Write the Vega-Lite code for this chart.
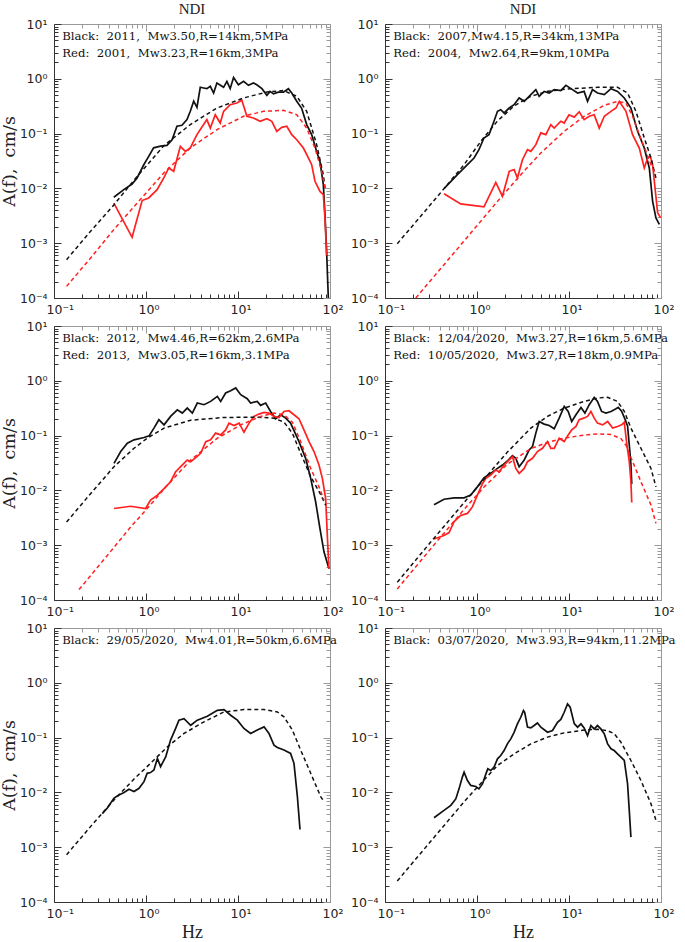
{
"$schema":"https://vega.github.io/schema/vega-lite/v6.json",
"padding":{"left":0,"top":2,"right":5,"bottom":0},
"autosize":{"type":"pad"},
"background":"white",
"columns":2,
"spacing":{"row":28,"column":55},
"bounds":"flush",
"config":{
 "view":{"stroke":null},
 "axis":{"grid":false,"labelFont":"DejaVu Sans","labelFontSize":12.5,"labelColor":"#222","titleFont":"Liberation Serif","titleFontWeight":"normal","titleColor":"#222","domainWidth":1,"tickWidth":1},
 "axisBottom":{"domainColor":"#333","tickColor":"#333"},
 "axisLeft":{"domainColor":"#333","tickColor":"#333"},
 "axisTop":{"domainColor":"#999","tickColor":"#999"},
 "axisRight":{"domainColor":"#999","tickColor":"#999"},
 "title":{"font":"Liberation Serif","fontSize":15,"fontWeight":"normal","color":"#222","offset":1,"frame":"group"}
},
"datasets":{"spectra":[
{"panel":1,"series":"Black","curve":"obs","hz":0.447,"amp":0.0069},
{"panel":1,"series":"Black","curve":"obs","hz":0.574,"amp":0.0095},
{"panel":1,"series":"Black","curve":"obs","hz":0.706,"amp":0.012},
{"panel":1,"series":"Black","curve":"obs","hz":0.8,"amp":0.0155},
{"panel":1,"series":"Black","curve":"obs","hz":0.946,"amp":0.027},
{"panel":1,"series":"Black","curve":"obs","hz":1.07,"amp":0.0385},
{"panel":1,"series":"Black","curve":"obs","hz":1.21,"amp":0.055},
{"panel":1,"series":"Black","curve":"obs","hz":1.44,"amp":0.059},
{"panel":1,"series":"Black","curve":"obs","hz":1.69,"amp":0.061},
{"panel":1,"series":"Black","curve":"obs","hz":1.92,"amp":0.077},
{"panel":1,"series":"Black","curve":"obs","hz":2.17,"amp":0.136},
{"panel":1,"series":"Black","curve":"obs","hz":2.46,"amp":0.142},
{"panel":1,"series":"Black","curve":"obs","hz":2.79,"amp":0.18},
{"panel":1,"series":"Black","curve":"obs","hz":3.03,"amp":0.255},
{"panel":1,"series":"Black","curve":"obs","hz":3.3,"amp":0.39},
{"panel":1,"series":"Black","curve":"obs","hz":3.58,"amp":0.3},
{"panel":1,"series":"Black","curve":"obs","hz":3.89,"amp":0.7},
{"panel":1,"series":"Black","curve":"obs","hz":4.23,"amp":0.68},
{"panel":1,"series":"Black","curve":"obs","hz":4.59,"amp":0.66},
{"panel":1,"series":"Black","curve":"obs","hz":5.0,"amp":0.73},
{"panel":1,"series":"Black","curve":"obs","hz":5.43,"amp":0.55},
{"panel":1,"series":"Black","curve":"obs","hz":5.9,"amp":0.84},
{"panel":1,"series":"Black","curve":"obs","hz":6.97,"amp":0.7},
{"panel":1,"series":"Black","curve":"obs","hz":7.57,"amp":0.9},
{"panel":1,"series":"Black","curve":"obs","hz":8.22,"amp":0.66},
{"panel":1,"series":"Black","curve":"obs","hz":8.95,"amp":1.06},
{"panel":1,"series":"Black","curve":"obs","hz":10.1,"amp":0.78},
{"panel":1,"series":"Black","curve":"obs","hz":11.5,"amp":0.9},
{"panel":1,"series":"Black","curve":"obs","hz":13.0,"amp":0.76},
{"panel":1,"series":"Black","curve":"obs","hz":14.7,"amp":0.84},
{"panel":1,"series":"Black","curve":"obs","hz":16.0,"amp":0.78},
{"panel":1,"series":"Black","curve":"obs","hz":18.2,"amp":0.66},
{"panel":1,"series":"Black","curve":"obs","hz":20.6,"amp":0.5},
{"panel":1,"series":"Black","curve":"obs","hz":22.3,"amp":0.59},
{"panel":1,"series":"Black","curve":"obs","hz":24.3,"amp":0.53},
{"panel":1,"series":"Black","curve":"obs","hz":27.5,"amp":0.57},
{"panel":1,"series":"Black","curve":"obs","hz":31.2,"amp":0.57},
{"panel":1,"series":"Black","curve":"obs","hz":35.3,"amp":0.66},
{"panel":1,"series":"Black","curve":"obs","hz":38.4,"amp":0.55},
{"panel":1,"series":"Black","curve":"obs","hz":43.5,"amp":0.39},
{"panel":1,"series":"Black","curve":"obs","hz":49.2,"amp":0.29},
{"panel":1,"series":"Black","curve":"obs","hz":55.8,"amp":0.146},
{"panel":1,"series":"Black","curve":"obs","hz":63.2,"amp":0.096},
{"panel":1,"series":"Black","curve":"obs","hz":71.6,"amp":0.047},
{"panel":1,"series":"Black","curve":"obs","hz":77.8,"amp":0.031},
{"panel":1,"series":"Black","curve":"obs","hz":84.6,"amp":0.0117},
{"panel":1,"series":"Black","curve":"obs","hz":88.2,"amp":0.0033},
{"panel":1,"series":"Black","curve":"obs","hz":91.9,"amp":0.0007},
{"panel":1,"series":"Black","curve":"obs","hz":95.9,"amp":0.0001},
{"panel":1,"series":"Red","curve":"obs","hz":0.447,"amp":0.0054},
{"panel":1,"series":"Red","curve":"obs","hz":0.706,"amp":0.00128},
{"panel":1,"series":"Red","curve":"obs","hz":0.908,"amp":0.006},
{"panel":1,"series":"Red","curve":"obs","hz":1.07,"amp":0.0067},
{"panel":1,"series":"Red","curve":"obs","hz":1.32,"amp":0.0095},
{"panel":1,"series":"Red","curve":"obs","hz":1.56,"amp":0.0155},
{"panel":1,"series":"Red","curve":"obs","hz":1.77,"amp":0.0236},
{"panel":1,"series":"Red","curve":"obs","hz":2.0,"amp":0.0205},
{"panel":1,"series":"Red","curve":"obs","hz":2.36,"amp":0.0586},
{"panel":1,"series":"Red","curve":"obs","hz":2.68,"amp":0.0474},
{"panel":1,"series":"Red","curve":"obs","hz":3.03,"amp":0.0546},
{"panel":1,"series":"Red","curve":"obs","hz":3.58,"amp":0.0957},
{"panel":1,"series":"Red","curve":"obs","hz":4.23,"amp":0.146},
{"panel":1,"series":"Red","curve":"obs","hz":4.59,"amp":0.18},
{"panel":1,"series":"Red","curve":"obs","hz":5.0,"amp":0.126},
{"panel":1,"series":"Red","curve":"obs","hz":5.66,"amp":0.221},
{"panel":1,"series":"Red","curve":"obs","hz":6.41,"amp":0.156},
{"panel":1,"series":"Red","curve":"obs","hz":6.97,"amp":0.255},
{"panel":1,"series":"Red","curve":"obs","hz":8.22,"amp":0.337},
{"panel":1,"series":"Red","curve":"obs","hz":9.72,"amp":0.361},
{"panel":1,"series":"Red","curve":"obs","hz":11.0,"amp":0.405},
{"panel":1,"series":"Red","curve":"obs","hz":12.5,"amp":0.207},
{"panel":1,"series":"Red","curve":"obs","hz":14.7,"amp":0.193},
{"panel":1,"series":"Red","curve":"obs","hz":17.4,"amp":0.168},
{"panel":1,"series":"Red","curve":"obs","hz":20.6,"amp":0.187},
{"panel":1,"series":"Red","curve":"obs","hz":23.3,"amp":0.168},
{"panel":1,"series":"Red","curve":"obs","hz":26.4,"amp":0.11},
{"panel":1,"series":"Red","curve":"obs","hz":29.9,"amp":0.13},
{"panel":1,"series":"Red","curve":"obs","hz":33.9,"amp":0.136},
{"panel":1,"series":"Red","curve":"obs","hz":38.4,"amp":0.0957},
{"panel":1,"series":"Red","curve":"obs","hz":43.5,"amp":0.0774},
{"panel":1,"series":"Red","curve":"obs","hz":51.4,"amp":0.0546},
{"panel":1,"series":"Red","curve":"obs","hz":58.2,"amp":0.0359},
{"panel":1,"series":"Red","curve":"obs","hz":63.2,"amp":0.0271},
{"panel":1,"series":"Red","curve":"obs","hz":68.7,"amp":0.0135},
{"panel":1,"series":"Red","curve":"obs","hz":77.8,"amp":0.0088},
{"panel":1,"series":"Red","curve":"obs","hz":84.6,"amp":0.0077},
{"panel":1,"series":"Red","curve":"obs","hz":88.2,"amp":0.0029},
{"panel":1,"series":"Red","curve":"obs","hz":91.9,"amp":0.0006},
{"panel":1,"series":"Black","curve":"model","hz":0.137,"amp":0.0005},
{"panel":1,"series":"Black","curve":"model","hz":0.25,"amp":0.00166},
{"panel":1,"series":"Black","curve":"model","hz":0.447,"amp":0.005},
{"panel":1,"series":"Black","curve":"model","hz":0.8,"amp":0.0165},
{"panel":1,"series":"Black","curve":"model","hz":1.56,"amp":0.06},
{"panel":1,"series":"Black","curve":"model","hz":3.03,"amp":0.146},
{"panel":1,"series":"Black","curve":"model","hz":5.9,"amp":0.293},
{"panel":1,"series":"Black","curve":"model","hz":11.5,"amp":0.447},
{"panel":1,"series":"Black","curve":"model","hz":20.6,"amp":0.574},
{"panel":1,"series":"Black","curve":"model","hz":31.2,"amp":0.61},
{"panel":1,"series":"Black","curve":"model","hz":43.5,"amp":0.48},
{"panel":1,"series":"Black","curve":"model","hz":55.8,"amp":0.255},
{"panel":1,"series":"Black","curve":"model","hz":71.6,"amp":0.063},
{"panel":1,"series":"Black","curve":"model","hz":84.6,"amp":0.0178},
{"panel":1,"series":"Black","curve":"model","hz":88.2,"amp":0.0102},
{"panel":1,"series":"Red","curve":"model","hz":0.137,"amp":0.000163},
{"panel":1,"series":"Red","curve":"model","hz":0.25,"amp":0.000537},
{"panel":1,"series":"Red","curve":"model","hz":0.447,"amp":0.00177},
{"panel":1,"series":"Red","curve":"model","hz":0.8,"amp":0.0054},
{"panel":1,"series":"Red","curve":"model","hz":1.56,"amp":0.0191},
{"panel":1,"series":"Red","curve":"model","hz":3.03,"amp":0.0546},
{"panel":1,"series":"Red","curve":"model","hz":5.9,"amp":0.118},
{"panel":1,"series":"Red","curve":"model","hz":11.5,"amp":0.207},
{"panel":1,"series":"Red","curve":"model","hz":18.9,"amp":0.255},
{"panel":1,"series":"Red","curve":"model","hz":31.2,"amp":0.266},
{"panel":1,"series":"Red","curve":"model","hz":43.5,"amp":0.221},
{"panel":1,"series":"Red","curve":"model","hz":55.8,"amp":0.126},
{"panel":1,"series":"Red","curve":"model","hz":68.7,"amp":0.0546},
{"panel":1,"series":"Red","curve":"model","hz":81.1,"amp":0.0205},
{"panel":1,"series":"Red","curve":"model","hz":88.2,"amp":0.0102},
{"panel":2,"series":"Black","curve":"obs","hz":0.438,"amp":0.0099},
{"panel":2,"series":"Black","curve":"obs","hz":0.612,"amp":0.0178},
{"panel":2,"series":"Black","curve":"obs","hz":0.787,"amp":0.0271},
{"panel":2,"series":"Black","curve":"obs","hz":0.929,"amp":0.0359},
{"panel":2,"series":"Black","curve":"obs","hz":1.05,"amp":0.0509},
{"panel":2,"series":"Black","curve":"obs","hz":1.19,"amp":0.0832},
{"panel":2,"series":"Black","curve":"obs","hz":1.35,"amp":0.0957},
{"panel":2,"series":"Black","curve":"obs","hz":1.53,"amp":0.168},
{"panel":2,"series":"Black","curve":"obs","hz":1.67,"amp":0.255},
{"panel":2,"series":"Black","curve":"obs","hz":1.81,"amp":0.273},
{"panel":2,"series":"Black","curve":"obs","hz":1.97,"amp":0.238},
{"panel":2,"series":"Black","curve":"obs","hz":2.24,"amp":0.293},
{"panel":2,"series":"Black","curve":"obs","hz":2.53,"amp":0.337},
{"panel":2,"series":"Black","curve":"obs","hz":2.87,"amp":0.447},
{"panel":2,"series":"Black","curve":"obs","hz":3.26,"amp":0.388},
{"panel":2,"series":"Black","curve":"obs","hz":3.85,"amp":0.513},
{"panel":2,"series":"Black","curve":"obs","hz":4.36,"amp":0.634},
{"panel":2,"series":"Black","curve":"obs","hz":4.74,"amp":0.479},
{"panel":2,"series":"Black","curve":"obs","hz":5.37,"amp":0.59},
{"panel":2,"series":"Black","curve":"obs","hz":6.09,"amp":0.551},
{"panel":2,"series":"Black","curve":"obs","hz":6.9,"amp":0.634},
{"panel":2,"series":"Black","curve":"obs","hz":8.15,"amp":0.611},
{"panel":2,"series":"Black","curve":"obs","hz":9.25,"amp":0.76},
{"panel":2,"series":"Black","curve":"obs","hz":10.5,"amp":0.661},
{"panel":2,"series":"Black","curve":"obs","hz":12.4,"amp":0.551},
{"panel":2,"series":"Black","curve":"obs","hz":14.6,"amp":0.59},
{"panel":2,"series":"Black","curve":"obs","hz":15.9,"amp":0.388},
{"panel":2,"series":"Black","curve":"obs","hz":18.0,"amp":0.634},
{"panel":2,"series":"Black","curve":"obs","hz":20.4,"amp":0.551},
{"panel":2,"series":"Black","curve":"obs","hz":24.2,"amp":0.513},
{"panel":2,"series":"Black","curve":"obs","hz":28.6,"amp":0.661},
{"panel":2,"series":"Black","curve":"obs","hz":33.7,"amp":0.59},
{"panel":2,"series":"Black","curve":"obs","hz":39.9,"amp":0.447},
{"panel":2,"series":"Black","curve":"obs","hz":47.1,"amp":0.293},
{"panel":2,"series":"Black","curve":"obs","hz":55.7,"amp":0.11},
{"panel":2,"series":"Black","curve":"obs","hz":65.8,"amp":0.0546},
{"panel":2,"series":"Black","curve":"obs","hz":74.6,"amp":0.0236},
{"panel":2,"series":"Black","curve":"obs","hz":81.1,"amp":0.0058},
{"panel":2,"series":"Black","curve":"obs","hz":88.1,"amp":0.0029},
{"panel":2,"series":"Black","curve":"obs","hz":95.9,"amp":0.0022},
{"panel":2,"series":"Red","curve":"obs","hz":0.438,"amp":0.008},
{"panel":2,"series":"Red","curve":"obs","hz":0.665,"amp":0.0052},
{"panel":2,"series":"Red","curve":"obs","hz":1.19,"amp":0.0046},
{"panel":2,"series":"Red","curve":"obs","hz":1.6,"amp":0.0129},
{"panel":2,"series":"Red","curve":"obs","hz":1.89,"amp":0.0072},
{"panel":2,"series":"Red","curve":"obs","hz":2.24,"amp":0.0205},
{"panel":2,"series":"Red","curve":"obs","hz":2.53,"amp":0.022},
{"panel":2,"series":"Red","curve":"obs","hz":2.75,"amp":0.0155},
{"panel":2,"series":"Red","curve":"obs","hz":3.12,"amp":0.0334},
{"panel":2,"series":"Red","curve":"obs","hz":3.54,"amp":0.0509},
{"panel":2,"series":"Red","curve":"obs","hz":3.85,"amp":0.0474},
{"panel":2,"series":"Red","curve":"obs","hz":4.36,"amp":0.0628},
{"panel":2,"series":"Red","curve":"obs","hz":4.94,"amp":0.103},
{"panel":2,"series":"Red","curve":"obs","hz":5.6,"amp":0.0957},
{"panel":2,"series":"Red","curve":"obs","hz":6.35,"amp":0.146},
{"panel":2,"series":"Red","curve":"obs","hz":6.9,"amp":0.126},
{"panel":2,"series":"Red","curve":"obs","hz":8.15,"amp":0.168},
{"panel":2,"series":"Red","curve":"obs","hz":8.87,"amp":0.156},
{"panel":2,"series":"Red","curve":"obs","hz":10.0,"amp":0.221},
{"panel":2,"series":"Red","curve":"obs","hz":11.4,"amp":0.2},
{"panel":2,"series":"Red","curve":"obs","hz":12.9,"amp":0.25},
{"panel":2,"series":"Red","curve":"obs","hz":14.6,"amp":0.18},
{"panel":2,"series":"Red","curve":"obs","hz":16.6,"amp":0.207},
{"panel":2,"series":"Red","curve":"obs","hz":18.8,"amp":0.221},
{"panel":2,"series":"Red","curve":"obs","hz":21.3,"amp":0.126},
{"panel":2,"series":"Red","curve":"obs","hz":24.2,"amp":0.207},
{"panel":2,"series":"Red","curve":"obs","hz":28.6,"amp":0.255},
{"panel":2,"series":"Red","curve":"obs","hz":32.4,"amp":0.293},
{"panel":2,"series":"Red","curve":"obs","hz":35.2,"amp":0.388},
{"panel":2,"series":"Red","curve":"obs","hz":41.6,"amp":0.255},
{"panel":2,"series":"Red","curve":"obs","hz":49.1,"amp":0.0957},
{"panel":2,"series":"Red","curve":"obs","hz":58.1,"amp":0.0546},
{"panel":2,"series":"Red","curve":"obs","hz":65.8,"amp":0.0236},
{"panel":2,"series":"Red","curve":"obs","hz":71.6,"amp":0.0359},
{"panel":2,"series":"Red","curve":"obs","hz":76.5,"amp":0.0385},
{"panel":2,"series":"Red","curve":"obs","hz":81.1,"amp":0.0271},
{"panel":2,"series":"Red","curve":"obs","hz":84.6,"amp":0.0135},
{"panel":2,"series":"Red","curve":"obs","hz":91.9,"amp":0.0036},
{"panel":2,"series":"Red","curve":"obs","hz":99,"amp":0.0029},
{"panel":2,"series":"Black","curve":"model","hz":0.136,"amp":0.00098},
{"panel":2,"series":"Black","curve":"model","hz":0.244,"amp":0.0031},
{"panel":2,"series":"Black","curve":"model","hz":0.438,"amp":0.0099},
{"panel":2,"series":"Black","curve":"model","hz":0.724,"amp":0.0271},
{"panel":2,"series":"Black","curve":"model","hz":1.1,"amp":0.0723},
{"panel":2,"series":"Black","curve":"model","hz":1.67,"amp":0.17},
{"panel":2,"series":"Black","curve":"model","hz":2.53,"amp":0.32},
{"panel":2,"series":"Black","curve":"model","hz":3.85,"amp":0.479},
{"panel":2,"series":"Black","curve":"model","hz":5.84,"amp":0.59},
{"panel":2,"series":"Black","curve":"model","hz":10.5,"amp":0.661},
{"panel":2,"series":"Black","curve":"model","hz":20.4,"amp":0.698},
{"panel":2,"series":"Black","curve":"model","hz":33.7,"amp":0.698},
{"panel":2,"series":"Black","curve":"model","hz":43.3,"amp":0.551},
{"panel":2,"series":"Black","curve":"model","hz":53.4,"amp":0.255},
{"panel":2,"series":"Black","curve":"model","hz":65.8,"amp":0.0832},
{"panel":2,"series":"Black","curve":"model","hz":77.8,"amp":0.0359},
{"panel":2,"series":"Black","curve":"model","hz":88.1,"amp":0.0155},
{"panel":2,"series":"Red","curve":"model","hz":0.216,"amp":0.0001},
{"panel":2,"series":"Red","curve":"model","hz":0.438,"amp":0.000406},
{"panel":2,"series":"Red","curve":"model","hz":0.855,"amp":0.00153},
{"panel":2,"series":"Red","curve":"model","hz":1.67,"amp":0.0058},
{"panel":2,"series":"Red","curve":"model","hz":2.99,"amp":0.0178},
{"panel":2,"series":"Red","curve":"model","hz":4.94,"amp":0.0443},
{"panel":2,"series":"Red","curve":"model","hz":8.87,"amp":0.11},
{"panel":2,"series":"Red","curve":"model","hz":14.6,"amp":0.207},
{"panel":2,"series":"Red","curve":"model","hz":24.2,"amp":0.328},
{"panel":2,"series":"Red","curve":"model","hz":33.7,"amp":0.388},
{"panel":2,"series":"Red","curve":"model","hz":41.6,"amp":0.361},
{"panel":2,"series":"Red","curve":"model","hz":49.1,"amp":0.207},
{"panel":2,"series":"Red","curve":"model","hz":58.1,"amp":0.0957},
{"panel":2,"series":"Red","curve":"model","hz":68.6,"amp":0.0474},
{"panel":2,"series":"Red","curve":"model","hz":77.8,"amp":0.0271},
{"panel":2,"series":"Red","curve":"model","hz":88.1,"amp":0.0178},
{"panel":3,"series":"Black","curve":"obs","hz":0.449,"amp":0.0312},
{"panel":3,"series":"Black","curve":"obs","hz":0.531,"amp":0.0511},
{"panel":3,"series":"Black","curve":"obs","hz":0.627,"amp":0.0726},
{"panel":3,"series":"Black","curve":"obs","hz":0.741,"amp":0.0836},
{"panel":3,"series":"Black","curve":"obs","hz":0.951,"amp":0.0922},
{"panel":3,"series":"Black","curve":"obs","hz":1.08,"amp":0.0989},
{"panel":3,"series":"Black","curve":"obs","hz":1.22,"amp":0.137},
{"panel":3,"series":"Black","curve":"obs","hz":1.38,"amp":0.195},
{"panel":3,"series":"Black","curve":"obs","hz":1.57,"amp":0.157},
{"panel":3,"series":"Black","curve":"obs","hz":1.85,"amp":0.224},
{"panel":3,"series":"Black","curve":"obs","hz":2.19,"amp":0.296},
{"panel":3,"series":"Black","curve":"obs","hz":2.48,"amp":0.258},
{"panel":3,"series":"Black","curve":"obs","hz":2.81,"amp":0.318},
{"panel":3,"series":"Black","curve":"obs","hz":3.19,"amp":0.258},
{"panel":3,"series":"Black","curve":"obs","hz":3.61,"amp":0.393},
{"panel":3,"series":"Black","curve":"obs","hz":4.27,"amp":0.366},
{"panel":3,"series":"Black","curve":"obs","hz":5.04,"amp":0.421},
{"panel":3,"series":"Black","curve":"obs","hz":5.96,"amp":0.52},
{"panel":3,"series":"Black","curve":"obs","hz":6.48,"amp":0.421},
{"panel":3,"series":"Black","curve":"obs","hz":7.34,"amp":0.6},
{"panel":3,"series":"Black","curve":"obs","hz":8.32,"amp":0.661},
{"panel":3,"series":"Black","curve":"obs","hz":9.44,"amp":0.74},
{"panel":3,"series":"Black","curve":"obs","hz":10.7,"amp":0.558},
{"panel":3,"series":"Black","curve":"obs","hz":12.6,"amp":0.472},
{"panel":3,"series":"Black","curve":"obs","hz":13.7,"amp":0.393},
{"panel":3,"series":"Black","curve":"obs","hz":16.2,"amp":0.421},
{"panel":3,"series":"Black","curve":"obs","hz":17.6,"amp":0.356},
{"panel":3,"series":"Black","curve":"obs","hz":20.0,"amp":0.393},
{"panel":3,"series":"Black","curve":"obs","hz":22.6,"amp":0.276},
{"panel":3,"series":"Black","curve":"obs","hz":25.7,"amp":0.203},
{"panel":3,"series":"Black","curve":"obs","hz":29.1,"amp":0.24},
{"panel":3,"series":"Black","curve":"obs","hz":33.0,"amp":0.208},
{"panel":3,"series":"Black","curve":"obs","hz":37.3,"amp":0.169},
{"panel":3,"series":"Black","curve":"obs","hz":46.0,"amp":0.0778},
{"panel":3,"series":"Black","curve":"obs","hz":54.4,"amp":0.0385},
{"panel":3,"series":"Black","curve":"obs","hz":61.7,"amp":0.0166},
{"panel":3,"series":"Black","curve":"obs","hz":69.8,"amp":0.0062},
{"panel":3,"series":"Black","curve":"obs","hz":77.8,"amp":0.002},
{"panel":3,"series":"Black","curve":"obs","hz":86.1,"amp":0.00075},
{"panel":3,"series":"Black","curve":"obs","hz":97.5,"amp":0.00037},
{"panel":3,"series":"Red","curve":"obs","hz":0.449,"amp":0.00467},
{"panel":3,"series":"Red","curve":"obs","hz":0.681,"amp":0.00514},
{"panel":3,"series":"Red","curve":"obs","hz":0.99,"amp":0.00467},
{"panel":3,"series":"Red","curve":"obs","hz":1.12,"amp":0.00664},
{"panel":3,"series":"Red","curve":"obs","hz":1.33,"amp":0.0082},
{"panel":3,"series":"Red","curve":"obs","hz":1.57,"amp":0.0108},
{"panel":3,"series":"Red","curve":"obs","hz":1.85,"amp":0.0144},
{"panel":3,"series":"Red","curve":"obs","hz":2.1,"amp":0.0219},
{"panel":3,"series":"Red","curve":"obs","hz":2.38,"amp":0.0271},
{"panel":3,"series":"Red","curve":"obs","hz":2.81,"amp":0.0359},
{"panel":3,"series":"Red","curve":"obs","hz":3.06,"amp":0.0334},
{"panel":3,"series":"Red","curve":"obs","hz":3.47,"amp":0.0396},
{"panel":3,"series":"Red","curve":"obs","hz":3.93,"amp":0.0475},
{"panel":3,"series":"Red","curve":"obs","hz":4.46,"amp":0.0778},
{"panel":3,"series":"Red","curve":"obs","hz":5.04,"amp":0.0836},
{"panel":3,"series":"Red","curve":"obs","hz":5.71,"amp":0.111},
{"panel":3,"series":"Red","curve":"obs","hz":6.48,"amp":0.103},
{"panel":3,"series":"Red","curve":"obs","hz":7.34,"amp":0.127},
{"panel":3,"series":"Red","curve":"obs","hz":7.98,"amp":0.169},
{"panel":3,"series":"Red","curve":"obs","hz":9.05,"amp":0.153},
{"panel":3,"series":"Red","curve":"obs","hz":10.3,"amp":0.169},
{"panel":3,"series":"Red","curve":"obs","hz":11.6,"amp":0.115},
{"panel":3,"series":"Red","curve":"obs","hz":13.2,"amp":0.169},
{"panel":3,"series":"Red","curve":"obs","hz":14.9,"amp":0.224},
{"panel":3,"series":"Red","curve":"obs","hz":16.9,"amp":0.247},
{"panel":3,"series":"Red","curve":"obs","hz":19.2,"amp":0.265},
{"panel":3,"series":"Red","curve":"obs","hz":21.7,"amp":0.258},
{"panel":3,"series":"Red","curve":"obs","hz":24.6,"amp":0.224},
{"panel":3,"series":"Red","curve":"obs","hz":27.9,"amp":0.214},
{"panel":3,"series":"Red","curve":"obs","hz":31.6,"amp":0.276},
{"panel":3,"series":"Red","curve":"obs","hz":35.8,"amp":0.284},
{"panel":3,"series":"Red","curve":"obs","hz":40.6,"amp":0.24},
{"panel":3,"series":"Red","curve":"obs","hz":46.0,"amp":0.203},
{"panel":3,"series":"Red","curve":"obs","hz":52.1,"amp":0.127},
{"panel":3,"series":"Red","curve":"obs","hz":59.2,"amp":0.0778},
{"panel":3,"series":"Red","curve":"obs","hz":67.0,"amp":0.0511},
{"panel":3,"series":"Red","curve":"obs","hz":75.9,"amp":0.029},
{"panel":3,"series":"Red","curve":"obs","hz":82.6,"amp":0.0166},
{"panel":3,"series":"Red","curve":"obs","hz":89.7,"amp":0.0071},
{"panel":3,"series":"Red","curve":"obs","hz":93.5,"amp":0.0015},
{"panel":3,"series":"Red","curve":"obs","hz":97.5,"amp":0.00037},
{"panel":3,"series":"Black","curve":"model","hz":0.137,"amp":0.00265},
{"panel":3,"series":"Black","curve":"model","hz":0.251,"amp":0.0088},
{"panel":3,"series":"Black","curve":"model","hz":0.449,"amp":0.0271},
{"panel":3,"series":"Black","curve":"model","hz":0.741,"amp":0.0587},
{"panel":3,"series":"Black","curve":"model","hz":1.03,"amp":0.0896},
{"panel":3,"series":"Black","curve":"model","hz":1.57,"amp":0.137},
{"panel":3,"series":"Black","curve":"model","hz":3.06,"amp":0.191},
{"panel":3,"series":"Black","curve":"model","hz":7.05,"amp":0.214},
{"panel":3,"series":"Black","curve":"model","hz":16.2,"amp":0.217},
{"panel":3,"series":"Black","curve":"model","hz":24.6,"amp":0.208},
{"panel":3,"series":"Black","curve":"model","hz":31.6,"amp":0.176},
{"panel":3,"series":"Black","curve":"model","hz":39.0,"amp":0.111},
{"panel":3,"series":"Black","curve":"model","hz":48.0,"amp":0.0475},
{"panel":3,"series":"Black","curve":"model","hz":61.7,"amp":0.0178},
{"panel":3,"series":"Black","curve":"model","hz":79.2,"amp":0.0084},
{"panel":3,"series":"Black","curve":"model","hz":89.7,"amp":0.00537},
{"panel":3,"series":"Red","curve":"model","hz":0.187,"amp":0.000155},
{"panel":3,"series":"Red","curve":"model","hz":0.38,"amp":0.00065},
{"panel":3,"series":"Red","curve":"model","hz":0.681,"amp":0.00215},
{"panel":3,"series":"Red","curve":"model","hz":1.03,"amp":0.00467},
{"panel":3,"series":"Red","curve":"model","hz":1.71,"amp":0.0125},
{"panel":3,"series":"Red","curve":"model","hz":3.06,"amp":0.0359},
{"panel":3,"series":"Red","curve":"model","hz":5.96,"amp":0.0896},
{"panel":3,"series":"Red","curve":"model","hz":10.7,"amp":0.157},
{"panel":3,"series":"Red","curve":"model","hz":17.6,"amp":0.224},
{"panel":3,"series":"Red","curve":"model","hz":24.6,"amp":0.258},
{"panel":3,"series":"Red","curve":"model","hz":31.6,"amp":0.24},
{"panel":3,"series":"Red","curve":"model","hz":39.0,"amp":0.176},
{"panel":3,"series":"Red","curve":"model","hz":48.0,"amp":0.0778},
{"panel":3,"series":"Red","curve":"model","hz":61.7,"amp":0.0252},
{"panel":3,"series":"Red","curve":"model","hz":75.9,"amp":0.0116},
{"panel":3,"series":"Red","curve":"model","hz":86.1,"amp":0.0066},
{"panel":4,"series":"Black","curve":"obs","hz":0.341,"amp":0.0055},
{"panel":4,"series":"Black","curve":"obs","hz":0.438,"amp":0.0069},
{"panel":4,"series":"Black","curve":"obs","hz":0.564,"amp":0.0073},
{"panel":4,"series":"Black","curve":"obs","hz":0.724,"amp":0.0073},
{"panel":4,"series":"Black","curve":"obs","hz":0.855,"amp":0.0082},
{"panel":4,"series":"Black","curve":"obs","hz":1.01,"amp":0.0116},
{"panel":4,"series":"Black","curve":"obs","hz":1.19,"amp":0.017},
{"panel":4,"series":"Black","curve":"obs","hz":1.41,"amp":0.0205},
{"panel":4,"series":"Black","curve":"obs","hz":1.67,"amp":0.0252},
{"panel":4,"series":"Black","curve":"obs","hz":1.89,"amp":0.029},
{"panel":4,"series":"Black","curve":"obs","hz":2.14,"amp":0.0344},
{"panel":4,"series":"Black","curve":"obs","hz":2.43,"amp":0.0431},
{"panel":4,"series":"Black","curve":"obs","hz":2.64,"amp":0.0385},
{"panel":4,"series":"Black","curve":"obs","hz":2.87,"amp":0.0271},
{"panel":4,"series":"Black","curve":"obs","hz":3.26,"amp":0.0359},
{"panel":4,"series":"Black","curve":"obs","hz":3.69,"amp":0.0547},
{"panel":4,"series":"Black","curve":"obs","hz":4.01,"amp":0.0631},
{"panel":4,"series":"Black","curve":"obs","hz":4.36,"amp":0.111},
{"panel":4,"series":"Black","curve":"obs","hz":4.74,"amp":0.181},
{"panel":4,"series":"Black","curve":"obs","hz":5.37,"amp":0.162},
{"panel":4,"series":"Black","curve":"obs","hz":6.09,"amp":0.153},
{"panel":4,"series":"Black","curve":"obs","hz":6.9,"amp":0.133},
{"panel":4,"series":"Black","curve":"obs","hz":7.82,"amp":0.208},
{"panel":4,"series":"Black","curve":"obs","hz":8.87,"amp":0.341},
{"panel":4,"series":"Black","curve":"obs","hz":9.8,"amp":0.276},
{"panel":4,"series":"Black","curve":"obs","hz":10.7,"amp":0.181},
{"panel":4,"series":"Black","curve":"obs","hz":11.9,"amp":0.24},
{"panel":4,"series":"Black","curve":"obs","hz":13.5,"amp":0.327},
{"panel":4,"series":"Black","curve":"obs","hz":14.9,"amp":0.258},
{"panel":4,"series":"Black","curve":"obs","hz":16.6,"amp":0.366},
{"panel":4,"series":"Black","curve":"obs","hz":18.8,"amp":0.499},
{"panel":4,"series":"Black","curve":"obs","hz":20.4,"amp":0.421},
{"panel":4,"series":"Black","curve":"obs","hz":22.6,"amp":0.276},
{"panel":4,"series":"Black","curve":"obs","hz":25.2,"amp":0.258},
{"panel":4,"series":"Black","curve":"obs","hz":28.6,"amp":0.276},
{"panel":4,"series":"Black","curve":"obs","hz":32.4,"amp":0.309},
{"panel":4,"series":"Black","curve":"obs","hz":34.3,"amp":0.327},
{"panel":4,"series":"Black","curve":"obs","hz":37.3,"amp":0.28},
{"panel":4,"series":"Black","curve":"obs","hz":40.6,"amp":0.2},
{"panel":4,"series":"Black","curve":"obs","hz":43.3,"amp":0.15},
{"panel":4,"series":"Black","curve":"obs","hz":45.5,"amp":0.06},
{"panel":4,"series":"Black","curve":"obs","hz":47.1,"amp":0.03},
{"panel":4,"series":"Black","curve":"obs","hz":48.1,"amp":0.013},
{"panel":4,"series":"Red","curve":"obs","hz":0.341,"amp":0.0013},
{"panel":4,"series":"Red","curve":"obs","hz":0.438,"amp":0.0015},
{"panel":4,"series":"Red","curve":"obs","hz":0.497,"amp":0.0017},
{"panel":4,"series":"Red","curve":"obs","hz":0.564,"amp":0.0027},
{"panel":4,"series":"Red","curve":"obs","hz":0.665,"amp":0.0035},
{"panel":4,"series":"Red","curve":"obs","hz":0.787,"amp":0.0038},
{"panel":4,"series":"Red","curve":"obs","hz":0.891,"amp":0.005},
{"panel":4,"series":"Red","curve":"obs","hz":1.01,"amp":0.0082},
{"panel":4,"series":"Red","curve":"obs","hz":1.15,"amp":0.0134},
{"panel":4,"series":"Red","curve":"obs","hz":1.25,"amp":0.0166},
{"panel":4,"series":"Red","curve":"obs","hz":1.41,"amp":0.0191},
{"panel":4,"series":"Red","curve":"obs","hz":1.6,"amp":0.0236},
{"panel":4,"series":"Red","curve":"obs","hz":1.74,"amp":0.0219},
{"panel":4,"series":"Red","curve":"obs","hz":1.97,"amp":0.029},
{"panel":4,"series":"Red","curve":"obs","hz":2.14,"amp":0.0334},
{"panel":4,"series":"Red","curve":"obs","hz":2.43,"amp":0.0413},
{"panel":4,"series":"Red","curve":"obs","hz":2.64,"amp":0.0252},
{"panel":4,"series":"Red","curve":"obs","hz":2.87,"amp":0.0205},
{"panel":4,"series":"Red","curve":"obs","hz":3.26,"amp":0.0252},
{"panel":4,"series":"Red","curve":"obs","hz":3.54,"amp":0.0334},
{"panel":4,"series":"Red","curve":"obs","hz":4.01,"amp":0.0385},
{"panel":4,"series":"Red","curve":"obs","hz":4.54,"amp":0.0511},
{"panel":4,"series":"Red","curve":"obs","hz":5.15,"amp":0.0587},
{"panel":4,"series":"Red","curve":"obs","hz":5.84,"amp":0.0778},
{"panel":4,"series":"Red","curve":"obs","hz":6.35,"amp":0.0587},
{"panel":4,"series":"Red","curve":"obs","hz":6.9,"amp":0.0587},
{"panel":4,"series":"Red","curve":"obs","hz":7.82,"amp":0.0896},
{"panel":4,"series":"Red","curve":"obs","hz":8.87,"amp":0.0778},
{"panel":4,"series":"Red","curve":"obs","hz":9.8,"amp":0.103},
{"panel":4,"series":"Red","curve":"obs","hz":10.7,"amp":0.127},
{"panel":4,"series":"Red","curve":"obs","hz":11.9,"amp":0.147},
{"panel":4,"series":"Red","curve":"obs","hz":12.9,"amp":0.195},
{"panel":4,"series":"Red","curve":"obs","hz":14.4,"amp":0.208},
{"panel":4,"series":"Red","curve":"obs","hz":15.9,"amp":0.224},
{"panel":4,"series":"Red","curve":"obs","hz":17.3,"amp":0.276},
{"panel":4,"series":"Red","curve":"obs","hz":18.8,"amp":0.208},
{"panel":4,"series":"Red","curve":"obs","hz":20.4,"amp":0.169},
{"panel":4,"series":"Red","curve":"obs","hz":23.2,"amp":0.157},
{"panel":4,"series":"Red","curve":"obs","hz":26.3,"amp":0.181},
{"panel":4,"series":"Red","curve":"obs","hz":29.8,"amp":0.137},
{"panel":4,"series":"Red","curve":"obs","hz":33.7,"amp":0.147},
{"panel":4,"series":"Red","curve":"obs","hz":37.3,"amp":0.157},
{"panel":4,"series":"Red","curve":"obs","hz":39.9,"amp":0.175},
{"panel":4,"series":"Red","curve":"obs","hz":42.6,"amp":0.068},
{"panel":4,"series":"Red","curve":"obs","hz":45.2,"amp":0.034},
{"panel":4,"series":"Red","curve":"obs","hz":47.1,"amp":0.0144},
{"panel":4,"series":"Red","curve":"obs","hz":48.1,"amp":0.006},
{"panel":4,"series":"Black","curve":"model","hz":0.136,"amp":0.000211},
{"panel":4,"series":"Black","curve":"model","hz":0.314,"amp":0.00114},
{"panel":4,"series":"Black","curve":"model","hz":0.724,"amp":0.006},
{"panel":4,"series":"Black","curve":"model","hz":1.19,"amp":0.016},
{"panel":4,"series":"Black","curve":"model","hz":2.14,"amp":0.05},
{"panel":4,"series":"Black","curve":"model","hz":3.85,"amp":0.137},
{"panel":4,"series":"Black","curve":"model","hz":5.84,"amp":0.224},
{"panel":4,"series":"Black","curve":"model","hz":8.87,"amp":0.318},
{"panel":4,"series":"Black","curve":"model","hz":14.6,"amp":0.421},
{"panel":4,"series":"Black","curve":"model","hz":20.4,"amp":0.485},
{"panel":4,"series":"Black","curve":"model","hz":26.3,"amp":0.499},
{"panel":4,"series":"Black","curve":"model","hz":33.7,"amp":0.421},
{"panel":4,"series":"Black","curve":"model","hz":39.9,"amp":0.276},
{"panel":4,"series":"Black","curve":"model","hz":47.1,"amp":0.137},
{"panel":4,"series":"Black","curve":"model","hz":60.5,"amp":0.0587},
{"panel":4,"series":"Black","curve":"model","hz":77.8,"amp":0.0252},
{"panel":4,"series":"Black","curve":"model","hz":88.1,"amp":0.0116},
{"panel":4,"series":"Red","curve":"model","hz":0.136,"amp":0.000159},
{"panel":4,"series":"Red","curve":"model","hz":0.314,"amp":0.00086},
{"panel":4,"series":"Red","curve":"model","hz":0.724,"amp":0.0045},
{"panel":4,"series":"Red","curve":"model","hz":1.19,"amp":0.0115},
{"panel":4,"series":"Red","curve":"model","hz":2.14,"amp":0.03},
{"panel":4,"series":"Red","curve":"model","hz":3.85,"amp":0.058},
{"panel":4,"series":"Red","curve":"model","hz":5.84,"amp":0.075},
{"panel":4,"series":"Red","curve":"model","hz":8.87,"amp":0.09},
{"panel":4,"series":"Red","curve":"model","hz":14.6,"amp":0.102},
{"panel":4,"series":"Red","curve":"model","hz":20.4,"amp":0.107},
{"panel":4,"series":"Red","curve":"model","hz":28.6,"amp":0.105},
{"panel":4,"series":"Red","curve":"model","hz":36.7,"amp":0.088},
{"panel":4,"series":"Red","curve":"model","hz":42.0,"amp":0.065},
{"panel":4,"series":"Red","curve":"model","hz":47.1,"amp":0.04},
{"panel":4,"series":"Red","curve":"model","hz":60.5,"amp":0.0144},
{"panel":4,"series":"Red","curve":"model","hz":77.8,"amp":0.0054},
{"panel":4,"series":"Red","curve":"model","hz":88.1,"amp":0.0025},
{"panel":5,"series":"Black","curve":"obs","hz":0.335,"amp":0.0041},
{"panel":5,"series":"Black","curve":"obs","hz":0.38,"amp":0.0052},
{"panel":5,"series":"Black","curve":"obs","hz":0.449,"amp":0.0079},
{"panel":5,"series":"Black","curve":"obs","hz":0.509,"amp":0.009},
{"panel":5,"series":"Black","curve":"obs","hz":0.577,"amp":0.00995},
{"panel":5,"series":"Black","curve":"obs","hz":0.653,"amp":0.0114},
{"panel":5,"series":"Black","curve":"obs","hz":0.741,"amp":0.0104},
{"panel":5,"series":"Black","curve":"obs","hz":0.84,"amp":0.0119},
{"panel":5,"series":"Black","curve":"obs","hz":0.951,"amp":0.0157},
{"panel":5,"series":"Black","curve":"obs","hz":1.03,"amp":0.0223},
{"panel":5,"series":"Black","curve":"obs","hz":1.12,"amp":0.023},
{"panel":5,"series":"Black","curve":"obs","hz":1.22,"amp":0.0256},
{"panel":5,"series":"Black","curve":"obs","hz":1.33,"amp":0.0418},
{"panel":5,"series":"Black","curve":"obs","hz":1.44,"amp":0.0295},
{"panel":5,"series":"Black","curve":"obs","hz":1.64,"amp":0.0448},
{"panel":5,"series":"Black","curve":"obs","hz":1.85,"amp":0.09},
{"panel":5,"series":"Black","curve":"obs","hz":2.1,"amp":0.147},
{"panel":5,"series":"Black","curve":"obs","hz":2.28,"amp":0.208},
{"panel":5,"series":"Black","curve":"obs","hz":2.59,"amp":0.222},
{"panel":5,"series":"Black","curve":"obs","hz":3.06,"amp":0.168},
{"panel":5,"series":"Black","curve":"obs","hz":3.61,"amp":0.208},
{"panel":5,"series":"Black","curve":"obs","hz":4.64,"amp":0.245},
{"panel":5,"series":"Black","curve":"obs","hz":5.96,"amp":0.315},
{"panel":5,"series":"Black","curve":"obs","hz":7.05,"amp":0.324},
{"panel":5,"series":"Black","curve":"obs","hz":8.32,"amp":0.256},
{"panel":5,"series":"Black","curve":"obs","hz":9.84,"amp":0.208},
{"panel":5,"series":"Black","curve":"obs","hz":11.6,"amp":0.147},
{"panel":5,"series":"Black","curve":"obs","hz":13.7,"amp":0.119},
{"panel":5,"series":"Black","curve":"obs","hz":16.2,"amp":0.137},
{"panel":5,"series":"Black","curve":"obs","hz":19.2,"amp":0.157},
{"panel":5,"series":"Black","curve":"obs","hz":21.7,"amp":0.119},
{"panel":5,"series":"Black","curve":"obs","hz":24.6,"amp":0.073},
{"panel":5,"series":"Black","curve":"obs","hz":26.8,"amp":0.0662},
{"panel":5,"series":"Black","curve":"obs","hz":31.6,"amp":0.0592},
{"panel":5,"series":"Black","curve":"obs","hz":37.3,"amp":0.0515},
{"panel":5,"series":"Black","curve":"obs","hz":40.6,"amp":0.0339},
{"panel":5,"series":"Black","curve":"obs","hz":44.2,"amp":0.0084},
{"panel":5,"series":"Black","curve":"obs","hz":47.2,"amp":0.0021},
{"panel":5,"series":"Black","curve":"model","hz":0.137,"amp":0.00073},
{"panel":5,"series":"Black","curve":"model","hz":0.251,"amp":0.0024},
{"panel":5,"series":"Black","curve":"model","hz":0.449,"amp":0.0073},
{"panel":5,"series":"Black","curve":"model","hz":0.741,"amp":0.0175},
{"panel":5,"series":"Black","curve":"model","hz":1.12,"amp":0.0339},
{"panel":5,"series":"Black","curve":"model","hz":1.71,"amp":0.068},
{"panel":5,"series":"Black","curve":"model","hz":2.59,"amp":0.119},
{"panel":5,"series":"Black","curve":"model","hz":4.27,"amp":0.194},
{"panel":5,"series":"Black","curve":"model","hz":7.05,"amp":0.294},
{"panel":5,"series":"Black","curve":"model","hz":11.6,"amp":0.324},
{"panel":5,"series":"Black","curve":"model","hz":19.2,"amp":0.324},
{"panel":5,"series":"Black","curve":"model","hz":26.8,"amp":0.294},
{"panel":5,"series":"Black","curve":"model","hz":31.6,"amp":0.239},
{"panel":5,"series":"Black","curve":"model","hz":39.0,"amp":0.137},
{"panel":5,"series":"Black","curve":"model","hz":48.0,"amp":0.0592},
{"panel":5,"series":"Black","curve":"model","hz":61.7,"amp":0.0223},
{"panel":5,"series":"Black","curve":"model","hz":79.2,"amp":0.0084},
{"panel":5,"series":"Black","curve":"model","hz":86.1,"amp":0.0068},
{"panel":6,"series":"Black","curve":"obs","hz":0.341,"amp":0.00344},
{"panel":6,"series":"Black","curve":"obs","hz":0.438,"amp":0.0047},
{"panel":6,"series":"Black","curve":"obs","hz":0.519,"amp":0.0058},
{"panel":6,"series":"Black","curve":"obs","hz":0.588,"amp":0.0076},
{"panel":6,"series":"Black","curve":"obs","hz":0.638,"amp":0.0116},
{"panel":6,"series":"Black","curve":"obs","hz":0.693,"amp":0.019},
{"panel":6,"series":"Black","curve":"obs","hz":0.724,"amp":0.0234},
{"panel":6,"series":"Black","curve":"obs","hz":0.787,"amp":0.0165},
{"panel":6,"series":"Black","curve":"obs","hz":0.855,"amp":0.0134},
{"panel":6,"series":"Black","curve":"obs","hz":0.97,"amp":0.0128},
{"panel":6,"series":"Black","curve":"obs","hz":1.05,"amp":0.0116},
{"panel":6,"series":"Black","curve":"obs","hz":1.15,"amp":0.0144},
{"panel":6,"series":"Black","curve":"obs","hz":1.25,"amp":0.0218},
{"panel":6,"series":"Black","curve":"obs","hz":1.31,"amp":0.0269},
{"panel":6,"series":"Black","curve":"obs","hz":1.41,"amp":0.0251},
{"panel":6,"series":"Black","curve":"obs","hz":1.53,"amp":0.0288},
{"panel":6,"series":"Black","curve":"obs","hz":1.67,"amp":0.041},
{"panel":6,"series":"Black","curve":"obs","hz":1.81,"amp":0.0471},
{"panel":6,"series":"Black","curve":"obs","hz":1.97,"amp":0.0581},
{"panel":6,"series":"Black","curve":"obs","hz":2.14,"amp":0.0769},
{"panel":6,"series":"Black","curve":"obs","hz":2.33,"amp":0.0948},
{"panel":6,"series":"Black","curve":"obs","hz":2.53,"amp":0.125},
{"panel":6,"series":"Black","curve":"obs","hz":2.75,"amp":0.178},
{"panel":6,"series":"Black","curve":"obs","hz":2.99,"amp":0.235},
{"panel":6,"series":"Black","curve":"obs","hz":3.2,"amp":0.311},
{"panel":6,"series":"Black","curve":"obs","hz":3.3,"amp":0.29},
{"panel":6,"series":"Black","curve":"obs","hz":3.54,"amp":0.155},
{"panel":6,"series":"Black","curve":"obs","hz":3.85,"amp":0.15},
{"panel":6,"series":"Black","curve":"obs","hz":4.18,"amp":0.166},
{"panel":6,"series":"Black","curve":"obs","hz":4.54,"amp":0.185},
{"panel":6,"series":"Black","curve":"obs","hz":4.94,"amp":0.155},
{"panel":6,"series":"Black","curve":"obs","hz":5.84,"amp":0.125},
{"panel":6,"series":"Black","curve":"obs","hz":6.62,"amp":0.135},
{"panel":6,"series":"Black","curve":"obs","hz":7.5,"amp":0.19},
{"panel":6,"series":"Black","curve":"obs","hz":8.15,"amp":0.215},
{"panel":6,"series":"Black","curve":"obs","hz":8.87,"amp":0.29},
{"panel":6,"series":"Black","curve":"obs","hz":9.64,"amp":0.412},
{"panel":6,"series":"Black","curve":"obs","hz":10.3,"amp":0.358},
{"panel":6,"series":"Black","curve":"obs","hz":11.4,"amp":0.18},
{"panel":6,"series":"Black","curve":"obs","hz":12.4,"amp":0.155},
{"panel":6,"series":"Black","curve":"obs","hz":13.5,"amp":0.178},
{"panel":6,"series":"Black","curve":"obs","hz":14.6,"amp":0.15},
{"panel":6,"series":"Black","curve":"obs","hz":15.9,"amp":0.109},
{"panel":6,"series":"Black","curve":"obs","hz":17.3,"amp":0.166},
{"panel":6,"series":"Black","curve":"obs","hz":18.8,"amp":0.144},
{"panel":6,"series":"Black","curve":"obs","hz":20.4,"amp":0.166},
{"panel":6,"series":"Black","curve":"obs","hz":22.2,"amp":0.144},
{"panel":6,"series":"Black","curve":"obs","hz":24.2,"amp":0.117},
{"panel":6,"series":"Black","curve":"obs","hz":26.3,"amp":0.0769},
{"panel":6,"series":"Black","curve":"obs","hz":28.6,"amp":0.0624},
{"panel":6,"series":"Black","curve":"obs","hz":31.0,"amp":0.0581},
{"panel":6,"series":"Black","curve":"obs","hz":33.7,"amp":0.0506},
{"panel":6,"series":"Black","curve":"obs","hz":36.7,"amp":0.044},
{"panel":6,"series":"Black","curve":"obs","hz":39.9,"amp":0.0382},
{"panel":6,"series":"Black","curve":"obs","hz":43.3,"amp":0.0144},
{"panel":6,"series":"Black","curve":"obs","hz":45.2,"amp":0.0047},
{"panel":6,"series":"Black","curve":"obs","hz":47.1,"amp":0.00153},
{"panel":6,"series":"Black","curve":"model","hz":0.136,"amp":0.000242},
{"panel":6,"series":"Black","curve":"model","hz":0.314,"amp":0.00128},
{"panel":6,"series":"Black","curve":"model","hz":0.724,"amp":0.00674},
{"panel":6,"series":"Black","curve":"model","hz":1.01,"amp":0.0125},
{"panel":6,"series":"Black","curve":"model","hz":1.67,"amp":0.031},
{"panel":6,"series":"Black","curve":"model","hz":2.53,"amp":0.0506},
{"panel":6,"series":"Black","curve":"model","hz":3.85,"amp":0.0769},
{"panel":6,"series":"Black","curve":"model","hz":5.84,"amp":0.102},
{"panel":6,"series":"Black","curve":"model","hz":8.87,"amp":0.122},
{"panel":6,"series":"Black","curve":"model","hz":14.6,"amp":0.137},
{"panel":6,"series":"Black","curve":"model","hz":20.4,"amp":0.142},
{"panel":6,"series":"Black","curve":"model","hz":26.3,"amp":0.134},
{"panel":6,"series":"Black","curve":"model","hz":31.0,"amp":0.118},
{"panel":6,"series":"Black","curve":"model","hz":36.7,"amp":0.0824},
{"panel":6,"series":"Black","curve":"model","hz":47.1,"amp":0.0382},
{"panel":6,"series":"Black","curve":"model","hz":60.5,"amp":0.0165},
{"panel":6,"series":"Black","curve":"model","hz":77.8,"amp":0.0062},
{"panel":6,"series":"Black","curve":"model","hz":88.1,"amp":0.0031}
]},
"concat":[
{"width":276,"height":274,"title":{"text":"NDI"},
 "layer":[
  {"data":{"name":"spectra"},"transform":[{"filter":"datum.panel==1 && datum.curve=='obs'"}],
   "mark":{"type":"line","strokeWidth":1.7,"clip":true},
   "encoding":{
    "x":{"field":"hz","type":"quantitative","scale":{"type":"log","domain":[0.1,100],"nice":false},"axis":{"orient":"bottom","title":null,"values":[0.1,0.2,0.3,0.4,0.5,0.6,0.7,0.8,0.9,1,2,3,4,5,6,7,8,9,10,20,30,40,50,60,70,80,90,100],"labelExpr":"abs(log(datum.value)/LN10-round(log(datum.value)/LN10))<0.01 ? ['10⁻⁴','10⁻³','10⁻²','10⁻¹','10⁰','10¹','10²'][round(log(datum.value)/LN10)+4] : ''","tickSize":{"condition":{"test":"abs(log(datum.value)/LN10-round(log(datum.value)/LN10))<0.01","value":-7},"value":-4},"labelAlign":"left","labelOffset":-8,"labelFlush":false,"labelOverlap":false,"labelPadding":12}},
    "y":{"field":"amp","type":"quantitative","scale":{"type":"log","domain":[0.0001,10],"nice":false},"axis":{"orient":"left","title":"A(f),\u00a0 cm/s","titleFont":"DejaVu Serif","titleFontSize":17.5,"titlePadding":1,"values":[0.0001,0.0002,0.0003,0.0004,0.0005,0.0006,0.0007,0.0008,0.0009,0.001,0.002,0.003,0.004,0.005,0.006,0.007,0.008,0.009,0.01,0.02,0.03,0.04,0.05,0.06,0.07,0.08,0.09,0.1,0.2,0.3,0.4,0.5,0.6,0.7,0.8,0.9,1,2,3,4,5,6,7,8,9,10],"labelExpr":"abs(log(datum.value)/LN10-round(log(datum.value)/LN10))<0.01 ? ['10⁻⁴','10⁻³','10⁻²','10⁻¹','10⁰','10¹','10²'][round(log(datum.value)/LN10)+4] : ''","tickSize":{"condition":{"test":"abs(log(datum.value)/LN10-round(log(datum.value)/LN10))<0.01","value":-7},"value":-4},"labelFlush":false,"labelOverlap":false,"labelPadding":14}},
    "color":{"field":"series","type":"nominal","scale":{"domain":["Black","Red"],"range":["#111111","#ff2020"]},"legend":null}}},
  {"data":{"name":"spectra"},"transform":[{"filter":"datum.panel==1 && datum.curve=='model'"}],
   "mark":{"type":"line","strokeWidth":1.5,"strokeDash":[4,3],"clip":true},
   "encoding":{
    "x":{"field":"hz","type":"quantitative","axis":{"orient":"top","title":null,"labels":false,"values":[0.1,0.2,0.3,0.4,0.5,0.6,0.7,0.8,0.9,1,2,3,4,5,6,7,8,9,10,20,30,40,50,60,70,80,90,100],"tickSize":{"condition":{"test":"abs(log(datum.value)/LN10-round(log(datum.value)/LN10))<0.01","value":-7},"value":-4}}},
    "y":{"field":"amp","type":"quantitative","axis":{"orient":"right","title":null,"labels":false,"values":[0.0001,0.0002,0.0003,0.0004,0.0005,0.0006,0.0007,0.0008,0.0009,0.001,0.002,0.003,0.004,0.005,0.006,0.007,0.008,0.009,0.01,0.02,0.03,0.04,0.05,0.06,0.07,0.08,0.09,0.1,0.2,0.3,0.4,0.5,0.6,0.7,0.8,0.9,1,2,3,4,5,6,7,8,9,10],"tickSize":{"condition":{"test":"abs(log(datum.value)/LN10-round(log(datum.value)/LN10))<0.01","value":-7},"value":-4}}},
    "color":{"field":"series","type":"nominal","legend":null}}},
  {"data":{"values":[{"note":"Black:\u00a0 2011,\u00a0 Mw3.50,R=14km,5MPa\nRed:\u00a0 2001,\u00a0 Mw3.23,R=16km,3MPa"}]},
   "mark":{"type":"text","align":"left","baseline":"top","lineBreak":"\n","lineHeight":16.5,"font":"DejaVu Serif","fontSize":11.7,"color":"#111"},
   "encoding":{"x":{"datum":0.123,"type":"quantitative","axis":null},"y":{"datum":7.3,"type":"quantitative","axis":null},"text":{"field":"note"}}}
 ],
 "resolve":{"axis":{"x":"independent","y":"independent"}}},
{"width":276,"height":274,"title":{"text":"NDI"},
 "layer":[
  {"data":{"name":"spectra"},"transform":[{"filter":"datum.panel==2 && datum.curve=='obs'"}],
   "mark":{"type":"line","strokeWidth":1.7,"clip":true},
   "encoding":{
    "x":{"field":"hz","type":"quantitative","scale":{"type":"log","domain":[0.1,100],"nice":false},"axis":{"orient":"bottom","title":null,"values":[0.1,0.2,0.3,0.4,0.5,0.6,0.7,0.8,0.9,1,2,3,4,5,6,7,8,9,10,20,30,40,50,60,70,80,90,100],"labelExpr":"abs(log(datum.value)/LN10-round(log(datum.value)/LN10))<0.01 ? ['10⁻⁴','10⁻³','10⁻²','10⁻¹','10⁰','10¹','10²'][round(log(datum.value)/LN10)+4] : ''","tickSize":{"condition":{"test":"abs(log(datum.value)/LN10-round(log(datum.value)/LN10))<0.01","value":-7},"value":-4},"labelAlign":"left","labelOffset":-8,"labelFlush":false,"labelOverlap":false,"labelPadding":12}},
    "y":{"field":"amp","type":"quantitative","scale":{"type":"log","domain":[0.0001,10],"nice":false},"axis":{"orient":"left","title":null,"values":[0.0001,0.0002,0.0003,0.0004,0.0005,0.0006,0.0007,0.0008,0.0009,0.001,0.002,0.003,0.004,0.005,0.006,0.007,0.008,0.009,0.01,0.02,0.03,0.04,0.05,0.06,0.07,0.08,0.09,0.1,0.2,0.3,0.4,0.5,0.6,0.7,0.8,0.9,1,2,3,4,5,6,7,8,9,10],"labelExpr":"abs(log(datum.value)/LN10-round(log(datum.value)/LN10))<0.01 ? ['10⁻⁴','10⁻³','10⁻²','10⁻¹','10⁰','10¹','10²'][round(log(datum.value)/LN10)+4] : ''","tickSize":{"condition":{"test":"abs(log(datum.value)/LN10-round(log(datum.value)/LN10))<0.01","value":-7},"value":-4},"labelFlush":false,"labelOverlap":false,"labelPadding":14}},
    "color":{"field":"series","type":"nominal","scale":{"domain":["Black","Red"],"range":["#111111","#ff2020"]},"legend":null}}},
  {"data":{"name":"spectra"},"transform":[{"filter":"datum.panel==2 && datum.curve=='model'"}],
   "mark":{"type":"line","strokeWidth":1.5,"strokeDash":[4,3],"clip":true},
   "encoding":{
    "x":{"field":"hz","type":"quantitative","axis":{"orient":"top","title":null,"labels":false,"values":[0.1,0.2,0.3,0.4,0.5,0.6,0.7,0.8,0.9,1,2,3,4,5,6,7,8,9,10,20,30,40,50,60,70,80,90,100],"tickSize":{"condition":{"test":"abs(log(datum.value)/LN10-round(log(datum.value)/LN10))<0.01","value":-7},"value":-4}}},
    "y":{"field":"amp","type":"quantitative","axis":{"orient":"right","title":null,"labels":false,"values":[0.0001,0.0002,0.0003,0.0004,0.0005,0.0006,0.0007,0.0008,0.0009,0.001,0.002,0.003,0.004,0.005,0.006,0.007,0.008,0.009,0.01,0.02,0.03,0.04,0.05,0.06,0.07,0.08,0.09,0.1,0.2,0.3,0.4,0.5,0.6,0.7,0.8,0.9,1,2,3,4,5,6,7,8,9,10],"tickSize":{"condition":{"test":"abs(log(datum.value)/LN10-round(log(datum.value)/LN10))<0.01","value":-7},"value":-4}}},
    "color":{"field":"series","type":"nominal","legend":null}}},
  {"data":{"values":[{"note":"Black:\u00a0 2007,Mw4.15,R=34km,13MPa\nRed:\u00a0 2004,\u00a0 Mw2.64,R=9km,10MPa"}]},
   "mark":{"type":"text","align":"left","baseline":"top","lineBreak":"\n","lineHeight":16.5,"font":"DejaVu Serif","fontSize":11.7,"color":"#111"},
   "encoding":{"x":{"datum":0.123,"type":"quantitative","axis":null},"y":{"datum":7.3,"type":"quantitative","axis":null},"text":{"field":"note"}}}
 ],
 "resolve":{"axis":{"x":"independent","y":"independent"}}},
{"width":276,"height":274,
 "layer":[
  {"data":{"name":"spectra"},"transform":[{"filter":"datum.panel==3 && datum.curve=='obs'"}],
   "mark":{"type":"line","strokeWidth":1.7,"clip":true},
   "encoding":{
    "x":{"field":"hz","type":"quantitative","scale":{"type":"log","domain":[0.1,100],"nice":false},"axis":{"orient":"bottom","title":null,"values":[0.1,0.2,0.3,0.4,0.5,0.6,0.7,0.8,0.9,1,2,3,4,5,6,7,8,9,10,20,30,40,50,60,70,80,90,100],"labelExpr":"abs(log(datum.value)/LN10-round(log(datum.value)/LN10))<0.01 ? ['10⁻⁴','10⁻³','10⁻²','10⁻¹','10⁰','10¹','10²'][round(log(datum.value)/LN10)+4] : ''","tickSize":{"condition":{"test":"abs(log(datum.value)/LN10-round(log(datum.value)/LN10))<0.01","value":-7},"value":-4},"labelAlign":"left","labelOffset":-8,"labelFlush":false,"labelOverlap":false,"labelPadding":12}},
    "y":{"field":"amp","type":"quantitative","scale":{"type":"log","domain":[0.0001,10],"nice":false},"axis":{"orient":"left","title":"A(f),\u00a0 cm/s","titleFont":"DejaVu Serif","titleFontSize":17.5,"titlePadding":1,"values":[0.0001,0.0002,0.0003,0.0004,0.0005,0.0006,0.0007,0.0008,0.0009,0.001,0.002,0.003,0.004,0.005,0.006,0.007,0.008,0.009,0.01,0.02,0.03,0.04,0.05,0.06,0.07,0.08,0.09,0.1,0.2,0.3,0.4,0.5,0.6,0.7,0.8,0.9,1,2,3,4,5,6,7,8,9,10],"labelExpr":"abs(log(datum.value)/LN10-round(log(datum.value)/LN10))<0.01 ? ['10⁻⁴','10⁻³','10⁻²','10⁻¹','10⁰','10¹','10²'][round(log(datum.value)/LN10)+4] : ''","tickSize":{"condition":{"test":"abs(log(datum.value)/LN10-round(log(datum.value)/LN10))<0.01","value":-7},"value":-4},"labelFlush":false,"labelOverlap":false,"labelPadding":14}},
    "color":{"field":"series","type":"nominal","scale":{"domain":["Black","Red"],"range":["#111111","#ff2020"]},"legend":null}}},
  {"data":{"name":"spectra"},"transform":[{"filter":"datum.panel==3 && datum.curve=='model'"}],
   "mark":{"type":"line","strokeWidth":1.5,"strokeDash":[4,3],"clip":true},
   "encoding":{
    "x":{"field":"hz","type":"quantitative","axis":{"orient":"top","title":null,"labels":false,"values":[0.1,0.2,0.3,0.4,0.5,0.6,0.7,0.8,0.9,1,2,3,4,5,6,7,8,9,10,20,30,40,50,60,70,80,90,100],"tickSize":{"condition":{"test":"abs(log(datum.value)/LN10-round(log(datum.value)/LN10))<0.01","value":-7},"value":-4}}},
    "y":{"field":"amp","type":"quantitative","axis":{"orient":"right","title":null,"labels":false,"values":[0.0001,0.0002,0.0003,0.0004,0.0005,0.0006,0.0007,0.0008,0.0009,0.001,0.002,0.003,0.004,0.005,0.006,0.007,0.008,0.009,0.01,0.02,0.03,0.04,0.05,0.06,0.07,0.08,0.09,0.1,0.2,0.3,0.4,0.5,0.6,0.7,0.8,0.9,1,2,3,4,5,6,7,8,9,10],"tickSize":{"condition":{"test":"abs(log(datum.value)/LN10-round(log(datum.value)/LN10))<0.01","value":-7},"value":-4}}},
    "color":{"field":"series","type":"nominal","legend":null}}},
  {"data":{"values":[{"note":"Black:\u00a0 2012,\u00a0 Mw4.46,R=62km,2.6MPa\nRed:\u00a0 2013,\u00a0 Mw3.05,R=16km,3.1MPa"}]},
   "mark":{"type":"text","align":"left","baseline":"top","lineBreak":"\n","lineHeight":16.5,"font":"DejaVu Serif","fontSize":11.7,"color":"#111"},
   "encoding":{"x":{"datum":0.123,"type":"quantitative","axis":null},"y":{"datum":7.3,"type":"quantitative","axis":null},"text":{"field":"note"}}}
 ],
 "resolve":{"axis":{"x":"independent","y":"independent"}}},
{"width":276,"height":274,
 "layer":[
  {"data":{"name":"spectra"},"transform":[{"filter":"datum.panel==4 && datum.curve=='obs'"}],
   "mark":{"type":"line","strokeWidth":1.7,"clip":true},
   "encoding":{
    "x":{"field":"hz","type":"quantitative","scale":{"type":"log","domain":[0.1,100],"nice":false},"axis":{"orient":"bottom","title":null,"values":[0.1,0.2,0.3,0.4,0.5,0.6,0.7,0.8,0.9,1,2,3,4,5,6,7,8,9,10,20,30,40,50,60,70,80,90,100],"labelExpr":"abs(log(datum.value)/LN10-round(log(datum.value)/LN10))<0.01 ? ['10⁻⁴','10⁻³','10⁻²','10⁻¹','10⁰','10¹','10²'][round(log(datum.value)/LN10)+4] : ''","tickSize":{"condition":{"test":"abs(log(datum.value)/LN10-round(log(datum.value)/LN10))<0.01","value":-7},"value":-4},"labelAlign":"left","labelOffset":-8,"labelFlush":false,"labelOverlap":false,"labelPadding":12}},
    "y":{"field":"amp","type":"quantitative","scale":{"type":"log","domain":[0.0001,10],"nice":false},"axis":{"orient":"left","title":null,"values":[0.0001,0.0002,0.0003,0.0004,0.0005,0.0006,0.0007,0.0008,0.0009,0.001,0.002,0.003,0.004,0.005,0.006,0.007,0.008,0.009,0.01,0.02,0.03,0.04,0.05,0.06,0.07,0.08,0.09,0.1,0.2,0.3,0.4,0.5,0.6,0.7,0.8,0.9,1,2,3,4,5,6,7,8,9,10],"labelExpr":"abs(log(datum.value)/LN10-round(log(datum.value)/LN10))<0.01 ? ['10⁻⁴','10⁻³','10⁻²','10⁻¹','10⁰','10¹','10²'][round(log(datum.value)/LN10)+4] : ''","tickSize":{"condition":{"test":"abs(log(datum.value)/LN10-round(log(datum.value)/LN10))<0.01","value":-7},"value":-4},"labelFlush":false,"labelOverlap":false,"labelPadding":14}},
    "color":{"field":"series","type":"nominal","scale":{"domain":["Black","Red"],"range":["#111111","#ff2020"]},"legend":null}}},
  {"data":{"name":"spectra"},"transform":[{"filter":"datum.panel==4 && datum.curve=='model'"}],
   "mark":{"type":"line","strokeWidth":1.5,"strokeDash":[4,3],"clip":true},
   "encoding":{
    "x":{"field":"hz","type":"quantitative","axis":{"orient":"top","title":null,"labels":false,"values":[0.1,0.2,0.3,0.4,0.5,0.6,0.7,0.8,0.9,1,2,3,4,5,6,7,8,9,10,20,30,40,50,60,70,80,90,100],"tickSize":{"condition":{"test":"abs(log(datum.value)/LN10-round(log(datum.value)/LN10))<0.01","value":-7},"value":-4}}},
    "y":{"field":"amp","type":"quantitative","axis":{"orient":"right","title":null,"labels":false,"values":[0.0001,0.0002,0.0003,0.0004,0.0005,0.0006,0.0007,0.0008,0.0009,0.001,0.002,0.003,0.004,0.005,0.006,0.007,0.008,0.009,0.01,0.02,0.03,0.04,0.05,0.06,0.07,0.08,0.09,0.1,0.2,0.3,0.4,0.5,0.6,0.7,0.8,0.9,1,2,3,4,5,6,7,8,9,10],"tickSize":{"condition":{"test":"abs(log(datum.value)/LN10-round(log(datum.value)/LN10))<0.01","value":-7},"value":-4}}},
    "color":{"field":"series","type":"nominal","legend":null}}},
  {"data":{"values":[{"note":"Black:\u00a0 12/04/2020,\u00a0 Mw3.27,R=16km,5.6MPa\nRed:\u00a0 10/05/2020,\u00a0 Mw3.27,R=18km,0.9MPa"}]},
   "mark":{"type":"text","align":"left","baseline":"top","lineBreak":"\n","lineHeight":16.5,"font":"DejaVu Serif","fontSize":11.7,"color":"#111"},
   "encoding":{"x":{"datum":0.123,"type":"quantitative","axis":null},"y":{"datum":7.3,"type":"quantitative","axis":null},"text":{"field":"note"}}}
 ],
 "resolve":{"axis":{"x":"independent","y":"independent"}}},
{"width":276,"height":274,
 "layer":[
  {"data":{"name":"spectra"},"transform":[{"filter":"datum.panel==5 && datum.curve=='obs'"}],
   "mark":{"type":"line","strokeWidth":1.7,"clip":true},
   "encoding":{
    "x":{"field":"hz","type":"quantitative","scale":{"type":"log","domain":[0.1,100],"nice":false},"axis":{"orient":"bottom","title":"Hz","titleFont":"Liberation Serif","titleFontSize":18,"titlePadding":1,"values":[0.1,0.2,0.3,0.4,0.5,0.6,0.7,0.8,0.9,1,2,3,4,5,6,7,8,9,10,20,30,40,50,60,70,80,90,100],"labelExpr":"abs(log(datum.value)/LN10-round(log(datum.value)/LN10))<0.01 ? ['10⁻⁴','10⁻³','10⁻²','10⁻¹','10⁰','10¹','10²'][round(log(datum.value)/LN10)+4] : ''","tickSize":{"condition":{"test":"abs(log(datum.value)/LN10-round(log(datum.value)/LN10))<0.01","value":-7},"value":-4},"labelAlign":"left","labelOffset":-8,"labelFlush":false,"labelOverlap":false,"labelPadding":12}},
    "y":{"field":"amp","type":"quantitative","scale":{"type":"log","domain":[0.0001,10],"nice":false},"axis":{"orient":"left","title":"A(f),\u00a0 cm/s","titleFont":"DejaVu Serif","titleFontSize":17.5,"titlePadding":1,"values":[0.0001,0.0002,0.0003,0.0004,0.0005,0.0006,0.0007,0.0008,0.0009,0.001,0.002,0.003,0.004,0.005,0.006,0.007,0.008,0.009,0.01,0.02,0.03,0.04,0.05,0.06,0.07,0.08,0.09,0.1,0.2,0.3,0.4,0.5,0.6,0.7,0.8,0.9,1,2,3,4,5,6,7,8,9,10],"labelExpr":"abs(log(datum.value)/LN10-round(log(datum.value)/LN10))<0.01 ? ['10⁻⁴','10⁻³','10⁻²','10⁻¹','10⁰','10¹','10²'][round(log(datum.value)/LN10)+4] : ''","tickSize":{"condition":{"test":"abs(log(datum.value)/LN10-round(log(datum.value)/LN10))<0.01","value":-7},"value":-4},"labelFlush":false,"labelOverlap":false,"labelPadding":14}},
    "color":{"field":"series","type":"nominal","scale":{"domain":["Black","Red"],"range":["#111111","#ff2020"]},"legend":null}}},
  {"data":{"name":"spectra"},"transform":[{"filter":"datum.panel==5 && datum.curve=='model'"}],
   "mark":{"type":"line","strokeWidth":1.5,"strokeDash":[4,3],"clip":true},
   "encoding":{
    "x":{"field":"hz","type":"quantitative","axis":{"orient":"top","title":null,"labels":false,"values":[0.1,0.2,0.3,0.4,0.5,0.6,0.7,0.8,0.9,1,2,3,4,5,6,7,8,9,10,20,30,40,50,60,70,80,90,100],"tickSize":{"condition":{"test":"abs(log(datum.value)/LN10-round(log(datum.value)/LN10))<0.01","value":-7},"value":-4}}},
    "y":{"field":"amp","type":"quantitative","axis":{"orient":"right","title":null,"labels":false,"values":[0.0001,0.0002,0.0003,0.0004,0.0005,0.0006,0.0007,0.0008,0.0009,0.001,0.002,0.003,0.004,0.005,0.006,0.007,0.008,0.009,0.01,0.02,0.03,0.04,0.05,0.06,0.07,0.08,0.09,0.1,0.2,0.3,0.4,0.5,0.6,0.7,0.8,0.9,1,2,3,4,5,6,7,8,9,10],"tickSize":{"condition":{"test":"abs(log(datum.value)/LN10-round(log(datum.value)/LN10))<0.01","value":-7},"value":-4}}},
    "color":{"field":"series","type":"nominal","legend":null}}},
  {"data":{"values":[{"note":"Black:\u00a0 29/05/2020,\u00a0 Mw4.01,R=50km,6.6MPa"}]},
   "mark":{"type":"text","align":"left","baseline":"top","lineBreak":"\n","lineHeight":16.5,"font":"DejaVu Serif","fontSize":11.7,"color":"#111"},
   "encoding":{"x":{"datum":0.123,"type":"quantitative","axis":null},"y":{"datum":7.3,"type":"quantitative","axis":null},"text":{"field":"note"}}}
 ],
 "resolve":{"axis":{"x":"independent","y":"independent"}}},
{"width":276,"height":274,
 "layer":[
  {"data":{"name":"spectra"},"transform":[{"filter":"datum.panel==6 && datum.curve=='obs'"}],
   "mark":{"type":"line","strokeWidth":1.7,"clip":true},
   "encoding":{
    "x":{"field":"hz","type":"quantitative","scale":{"type":"log","domain":[0.1,100],"nice":false},"axis":{"orient":"bottom","title":"Hz","titleFont":"Liberation Serif","titleFontSize":18,"titlePadding":1,"values":[0.1,0.2,0.3,0.4,0.5,0.6,0.7,0.8,0.9,1,2,3,4,5,6,7,8,9,10,20,30,40,50,60,70,80,90,100],"labelExpr":"abs(log(datum.value)/LN10-round(log(datum.value)/LN10))<0.01 ? ['10⁻⁴','10⁻³','10⁻²','10⁻¹','10⁰','10¹','10²'][round(log(datum.value)/LN10)+4] : ''","tickSize":{"condition":{"test":"abs(log(datum.value)/LN10-round(log(datum.value)/LN10))<0.01","value":-7},"value":-4},"labelAlign":"left","labelOffset":-8,"labelFlush":false,"labelOverlap":false,"labelPadding":12}},
    "y":{"field":"amp","type":"quantitative","scale":{"type":"log","domain":[0.0001,10],"nice":false},"axis":{"orient":"left","title":null,"values":[0.0001,0.0002,0.0003,0.0004,0.0005,0.0006,0.0007,0.0008,0.0009,0.001,0.002,0.003,0.004,0.005,0.006,0.007,0.008,0.009,0.01,0.02,0.03,0.04,0.05,0.06,0.07,0.08,0.09,0.1,0.2,0.3,0.4,0.5,0.6,0.7,0.8,0.9,1,2,3,4,5,6,7,8,9,10],"labelExpr":"abs(log(datum.value)/LN10-round(log(datum.value)/LN10))<0.01 ? ['10⁻⁴','10⁻³','10⁻²','10⁻¹','10⁰','10¹','10²'][round(log(datum.value)/LN10)+4] : ''","tickSize":{"condition":{"test":"abs(log(datum.value)/LN10-round(log(datum.value)/LN10))<0.01","value":-7},"value":-4},"labelFlush":false,"labelOverlap":false,"labelPadding":14}},
    "color":{"field":"series","type":"nominal","scale":{"domain":["Black","Red"],"range":["#111111","#ff2020"]},"legend":null}}},
  {"data":{"name":"spectra"},"transform":[{"filter":"datum.panel==6 && datum.curve=='model'"}],
   "mark":{"type":"line","strokeWidth":1.5,"strokeDash":[4,3],"clip":true},
   "encoding":{
    "x":{"field":"hz","type":"quantitative","axis":{"orient":"top","title":null,"labels":false,"values":[0.1,0.2,0.3,0.4,0.5,0.6,0.7,0.8,0.9,1,2,3,4,5,6,7,8,9,10,20,30,40,50,60,70,80,90,100],"tickSize":{"condition":{"test":"abs(log(datum.value)/LN10-round(log(datum.value)/LN10))<0.01","value":-7},"value":-4}}},
    "y":{"field":"amp","type":"quantitative","axis":{"orient":"right","title":null,"labels":false,"values":[0.0001,0.0002,0.0003,0.0004,0.0005,0.0006,0.0007,0.0008,0.0009,0.001,0.002,0.003,0.004,0.005,0.006,0.007,0.008,0.009,0.01,0.02,0.03,0.04,0.05,0.06,0.07,0.08,0.09,0.1,0.2,0.3,0.4,0.5,0.6,0.7,0.8,0.9,1,2,3,4,5,6,7,8,9,10],"tickSize":{"condition":{"test":"abs(log(datum.value)/LN10-round(log(datum.value)/LN10))<0.01","value":-7},"value":-4}}},
    "color":{"field":"series","type":"nominal","legend":null}}},
  {"data":{"values":[{"note":"Black:\u00a0 03/07/2020,\u00a0 Mw3.93,R=94km,11.2MPa"}]},
   "mark":{"type":"text","align":"left","baseline":"top","lineBreak":"\n","lineHeight":16.5,"font":"DejaVu Serif","fontSize":11.7,"color":"#111"},
   "encoding":{"x":{"datum":0.123,"type":"quantitative","axis":null},"y":{"datum":7.3,"type":"quantitative","axis":null},"text":{"field":"note"}}}
 ],
 "resolve":{"axis":{"x":"independent","y":"independent"}}}
]
}
